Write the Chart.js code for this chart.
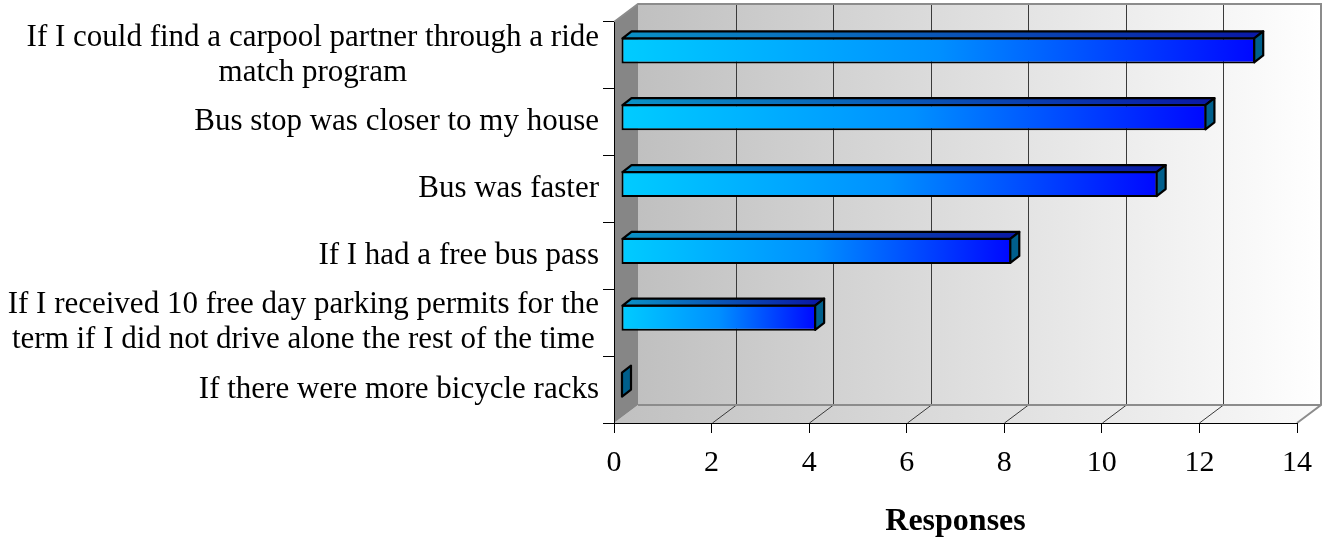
<!DOCTYPE html>
<html>
<head>
<meta charset="utf-8">
<script src="https://cdn.jsdelivr.net/npm/chart.js@4"></script>
<style>
  html, body { margin: 0; padding: 0; background: #fff; }
  #wrap { width: 1329px; height: 541px; }
</style>
</head>
<body>
<div id="wrap"><canvas id="grafica"></canvas></div>
<script>
const categories = [
    ['If I could find a carpool partner through a ride', 'match program'],
    'Bus stop was closer to my house',
    'Bus was faster',
    'If I had a free bus pass',
    ['If I received 10 free day parking permits for the', 'term if I did not drive alone the rest of the time'],
    'If there were more bicycle racks'
];
const responses = [13, 12, 11, 8, 4, 0];
const xMin = 0;
const xMax = 14;
const xStep = 2;
const axisTitle = 'Responses';

// depth of the box and of the bars
const DX = 24, DY = 18;
const BAR_DX = 7, BAR_DY = 5;
const BAR_SX = 9, BAR_SY = 7;
const SERIF = '"Liberation Serif", "Times New Roman", serif';

// walls + floor behind everything
const walls = {
    id: 'walls',
    beforeDraw(chart) {
        const ctx = chart.ctx;
        const { left, right, top, bottom } = chart.chartArea;
        const xs = chart.scales.x;
        ctx.save();

        let g = ctx.createLinearGradient(left + DX, 0, right + DX, 0);
        g.addColorStop(0, '#c0c0c0');
        g.addColorStop(1, '#ffffff');
        ctx.fillStyle = g;
        ctx.fillRect(left + DX, top - DY, right - left, bottom - top);

        g = ctx.createLinearGradient(left, 0, right + DX, 0);
        g.addColorStop(0, '#c0c0c0');
        g.addColorStop(1, '#fafafa');
        ctx.fillStyle = g;
        ctx.beginPath();
        ctx.moveTo(left, bottom);
        ctx.lineTo(right, bottom);
        ctx.lineTo(right + DX, bottom - DY);
        ctx.lineTo(left + DX, bottom - DY);
        ctx.closePath();
        ctx.fill();

        ctx.fillStyle = '#868686';
        ctx.beginPath();
        ctx.moveTo(left, top);
        ctx.lineTo(left + DX, top - DY);
        ctx.lineTo(left + DX, bottom - DY);
        ctx.lineTo(left, bottom);
        ctx.closePath();
        ctx.fill();

        ctx.strokeStyle = '#3a3a3a';
        ctx.lineWidth = 1;
        xs.ticks.forEach(t => {
            if (t.value <= xMin || t.value >= xMax) return;
            const px = Math.round(xs.getPixelForValue(t.value)) + 0.5;
            ctx.beginPath();
            ctx.moveTo(px + DX, top - DY);
            ctx.lineTo(px + DX, bottom - DY);
            ctx.moveTo(px, bottom);
            ctx.lineTo(px + DX, bottom - DY);
            ctx.stroke();
        });

        ctx.strokeStyle = '#8c8c8c';
        ctx.lineWidth = 2;
        ctx.beginPath();
        ctx.moveTo(left, top);
        ctx.lineTo(left + DX, top - DY);
        ctx.lineTo(right + DX, top - DY);
        ctx.lineTo(right + DX, bottom - DY);
        ctx.lineTo(right, bottom);
        ctx.moveTo(left + DX, bottom - DY);
        ctx.lineTo(right + DX, bottom - DY);
        ctx.stroke();
        ctx.restore();
    }
};

// top and side faces of each bar
const bars3d = {
    id: 'bars3d',
    beforeDatasetsDraw(chart) {
        chart.ctx.save();
        chart.ctx.translate(BAR_DX, -BAR_DY);
    },
    afterDatasetsDraw(chart) {
        const ctx = chart.ctx;
        const meta = chart.getDatasetMeta(0);
        ctx.lineWidth = 2.2;
        ctx.lineJoin = 'round';
        ctx.strokeStyle = '#000';
        meta.data.forEach(bar => {
            const p = bar.getProps(['x', 'y', 'base', 'height'], true);
            const t = p.y - p.height / 2 + 1;
            const b = p.y + p.height / 2 - 1;
            const x0 = p.base + 1, x1 = p.x - 1;
            if (x1 - x0 > 1) {
                const g = ctx.createLinearGradient(x0, 0, x1, 0);
                g.addColorStop(0, '#0a92c6');
                g.addColorStop(1, '#0a1aa6');
                ctx.fillStyle = g;
                ctx.beginPath();
                ctx.moveTo(x0, t);
                ctx.lineTo(x0 + BAR_SX, t - BAR_SY);
                ctx.lineTo(x1 + BAR_SX, t - BAR_SY);
                ctx.lineTo(x1, t);
                ctx.closePath();
                ctx.fill();
                ctx.stroke();
            }
            const xs = Math.max(x1, x0);
            ctx.fillStyle = '#005f8c';
            ctx.beginPath();
            ctx.moveTo(xs, t);
            ctx.lineTo(xs + BAR_SX, t - BAR_SY);
            ctx.lineTo(xs + BAR_SX, b - BAR_SY);
            ctx.lineTo(xs, b);
            ctx.closePath();
            ctx.fill();
            ctx.stroke();
        });
        ctx.restore();
    }
};

// category labels: block right aligned, lines centred in the block
const yLabels = {
    id: 'yLabels',
    afterDraw(chart) {
        const ctx = chart.ctx;
        const ys = chart.scales.y;
        const rightEdge = ys.right - 15;
        const lineH = 35;
        ctx.save();
        ctx.font = '31px ' + SERIF;
        ctx.fillStyle = '#000';
        ctx.textAlign = 'center';
        ctx.textBaseline = 'middle';
        categories.forEach((lab, i) => {
            const lines = Array.isArray(lab) ? lab : [lab];
            const w = Math.max(...lines.map(l => ctx.measureText(l).width));
            const cy = ys.getPixelForValue(i);
            lines.forEach((l, j) => {
                ctx.fillText(l, rightEdge - w / 2, cy + (j - (lines.length - 1) / 2) * lineH);
            });
        });
        ctx.restore();
    }
};

const data = {
    labels: categories,
    datasets: [{
        label: axisTitle,
        data: responses,
        backgroundColor: c => {
            const xs = c.chart.scales.x;
            if (!xs || c.raw === undefined) return '#00c8ff';
            const a = xs.getPixelForValue(xMin), b = xs.getPixelForValue(c.raw);
            if (!isFinite(a) || !isFinite(b)) return '#00c8ff';
            if (b - a < 2) return '#0060ff';
            const g = c.chart.ctx.createLinearGradient(a, 0, b, 0);
            g.addColorStop(0, '#00ccff');
            g.addColorStop(0.5, '#0090ff');
            g.addColorStop(1, '#0008ff');
            return g;
        },
        borderColor: '#000',
        borderWidth: c => (c.raw === 0 ? 0 : 2),
        borderSkipped: false,
        categoryPercentage: 1,
        barPercentage: 0.39
    }]
};

const config = {
    type: 'bar',
    data: data,
    plugins: [walls, bars3d, yLabels],
    options: {
        indexAxis: 'y',
        responsive: true,
        maintainAspectRatio: false,
        animation: false,
        layout: { padding: { top: 22, right: 32, left: 0, bottom: 0 } },
        plugins: {
            legend: { display: false },
            tooltip: { enabled: false },
            title: { display: false }
        },
        scales: {
            x: {
                min: xMin,
                max: xMax,
                ticks: {
                    stepSize: xStep,
                    color: '#000',
                    padding: 12,
                    font: { family: SERIF, size: 30 }
                },
                grid: { drawOnChartArea: false, drawTicks: true, tickLength: 10, color: '#000' },
                border: { display: true, color: '#000', width: 1 },
                title: {
                    display: true,
                    text: axisTitle,
                    color: '#000',
                    padding: { top: 0, bottom: 0 },
                    font: { family: SERIF, size: 32, weight: 'bold' }
                },
                afterFit: s => { s.height = 118; }
            },
            y: {
                ticks: { display: false },
                grid: { drawOnChartArea: false, drawTicks: true, tickLength: 11, color: '#000', offset: true },
                border: { display: true, color: '#000', width: 1 },
                afterFit: s => { s.width = 614; }
            }
        }
    }
};

new Chart(document.getElementById('grafica'), config);
</script>
</body>
</html>
